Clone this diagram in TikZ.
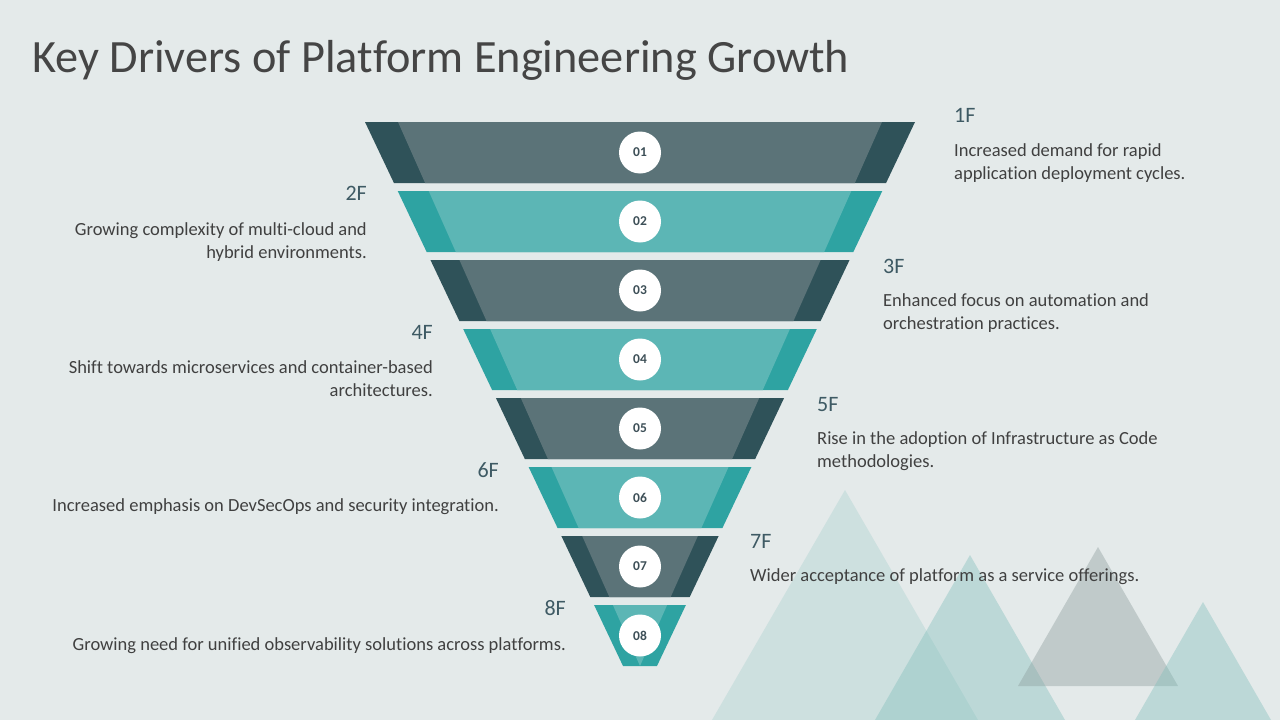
\documentclass[tikz,border=0pt]{standalone}
\usepackage{fontspec}
\setmainfont{Carlito}[Ligatures=NoCommon]
\definecolor{bg}{HTML}{E4EAEA}
\definecolor{slateD}{HTML}{2F5259}
\definecolor{slateL}{HTML}{5B7378}
\definecolor{tealD}{HTML}{2EA3A2}
\definecolor{tealL}{HTML}{5CB6B5}
\definecolor{txt}{HTML}{404040}
\definecolor{ttl}{HTML}{454545}
\definecolor{labc}{HTML}{3E5A64}
\definecolor{numc}{HTML}{3D4F57}
\definecolor{triT}{HTML}{7DBDBA}
\definecolor{triG}{HTML}{8C9C9C}
\tikzset{
  desc/.style={inner sep=0pt, text=txt, font=\fontsize{18.5}{23}\selectfont},
  lab/.style={inner sep=0pt, text=labc, font=\fontsize{22}{26}\selectfont},
  numcirc/.style={circle, fill=white, minimum size=42pt, inner sep=0pt, text=numc, font=\bfseries\fontsize{13.5}{14}\selectfont},
}
\begin{document}
\begin{tikzpicture}[x=1pt,y=-1pt]
\useasboundingbox (0,0) rectangle (1280,720);
\fill[bg] (0,0) rectangle (1280,720);
% background triangles
\fill[triT, opacity=0.22] (845,490) -- (712,720) -- (978,720) -- cycle;
\fill[triT, opacity=0.38] (970,555) -- (875,720) -- (1065,720) -- cycle;
\fill[triG, opacity=0.4] (1098,547) -- (1018,686) -- (1178,686) -- cycle;
\fill[triT, opacity=0.38] (1203,602) -- (1135,720) -- (1271,720) -- cycle;
% title
\node[inner sep=0pt, anchor=base west, text=ttl, font=\fontsize{46.3}{50}\selectfont] (title) at (32,72) {Key Drivers of Platform Engineering Growth};
% funnel bands
\foreach \i in {0,...,7}{
  \pgfmathsetmacro{\t}{122+69*\i}
  \pgfmathsetmacro{\b}{\t+61}
  \pgfmathsetmacro{\hot}{275-0.4743*(\t-122)}
  \pgfmathsetmacro{\hob}{275-0.4743*(\b-122)}
  \pgfmathsetmacro{\hit}{0.44485*(666-\t)}
  \pgfmathsetmacro{\hib}{0.44485*(666-\b)}
  \pgfmathtruncatemacro{\odd}{mod(\i,2)}
  \ifnum\odd=0
    \def\cd{slateD}\def\cl{slateL}
  \else
    \def\cd{tealD}\def\cl{tealL}
  \fi
  \fill[\cd] ({640-\hot},\t) -- ({640+\hot},\t) -- ({640+\hob},\b) -- ({640-\hob},\b) -- cycle;
  \fill[\cl] ({640-\hit},\t) -- ({640+\hit},\t) -- ({640+\hib},\b) -- ({640-\hib},\b) -- cycle;
}
% number circles
\node[numcirc] (c1) at (640,152.5) {01};
\node[numcirc] (c2) at (640,221.5) {02};
\node[numcirc] (c3) at (640,290.5) {03};
\node[numcirc] (c4) at (640,359.5) {04};
\node[numcirc] (c5) at (640,428.5) {05};
\node[numcirc] (c6) at (640,497.5) {06};
\node[numcirc] (c7) at (640,566.5) {07};
\node[numcirc] (c8) at (640,635.5) {08};
% labels and descriptions (multi-line nodes: base = last line)
\node[lab, anchor=base west] (l1) at (954,122) {1F};
\node[desc, anchor=base west, align=left] (d1) at (954,179) {Increased demand for rapid\\application deployment cycles.};
\node[lab, anchor=base east] (l2) at (367,200) {2F};
\node[desc, anchor=base east, align=right] (d2) at (367,258) {Growing complexity of multi-cloud and\\hybrid environments.};
\node[lab, anchor=base west] (l3) at (883,273) {3F};
\node[desc, anchor=base west, align=left] (d3) at (883,329) {Enhanced focus on automation and\\orchestration practices.};
\node[lab, anchor=base east] (l4) at (433,339) {4F};
\node[desc, anchor=base east, align=right] (d4) at (433,396) {Shift towards microservices and container-based\\architectures.};
\node[lab, anchor=base west] (l5) at (817,411) {5F};
\node[desc, anchor=base west, align=left] (d5) at (817,467) {Rise in the adoption of Infrastructure as Code\\methodologies.};
\node[lab, anchor=base east] (l6) at (499,477) {6F};
\node[desc, anchor=base east] (d6) at (499,511) {Increased emphasis on DevSecOps and security integration.};
\node[lab, anchor=base west] (l7) at (750,548) {7F};
\node[desc, anchor=base west] (d7) at (750,581) {Wider acceptance of platform as a service offerings.};
\node[lab, anchor=base east] (l8) at (566,615) {8F};
\node[desc, anchor=base east] (d8) at (566,650) {Growing need for unified observability solutions across platforms.};
\end{tikzpicture}
\end{document}
